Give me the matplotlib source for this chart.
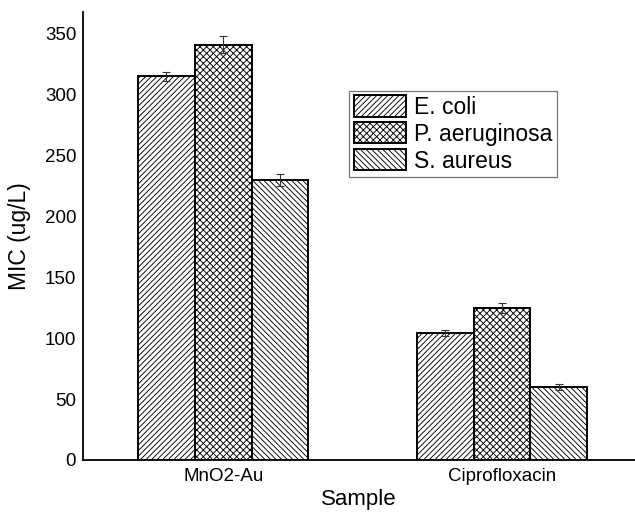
import matplotlib
matplotlib.use("Agg")
import matplotlib.pyplot as plt
import numpy as np

plt.rcParams['font.family'] = ['Liberation Sans', 'DejaVu Sans']
plt.rcParams['hatch.linewidth'] = 0.65

samples = ["MnO2-Au", "Ciprofloxacin"]
series = ["E. coli", "P. aeruginosa", "S. aureus"]
mic = {
    "E. coli": [315, 104],
    "P. aeruginosa": [341, 125],
    "S. aureus": [230, 60],
}
err = {
    "E. coli": [4, 2.5],
    "P. aeruginosa": [7, 4],
    "S. aureus": [5, 2.5],
}
hatches = {"E. coli": "//////", "P. aeruginosa": "xxxxx", "S. aureus": "\\\\\\\\\\\\"}
yticks = [0, 50, 100, 150, 200, 250, 300, 350]

fig = plt.figure(figsize=(6.35, 5.15), dpi=100)
ax = fig.add_axes([0.131, 0.107, 0.869, 0.870])

x = np.arange(len(samples))
width = 0.204
for i, name in enumerate(series):
    ax.bar(x + (i - 1) * width, mic[name], width, color="white", edgecolor="black",
           linewidth=1.4, hatch=hatches[name], label=name,
           yerr=err[name], error_kw=dict(ecolor="#333333", elinewidth=0.8, capsize=3, capthick=0.8))

ax.set_xlim(-0.502, 1.477)
ax.set_ylim(0, 368)
ax.set_yticks(yticks)
ax.set_xticks(x)
ax.set_xticklabels(samples)
ax.tick_params(length=0, labelsize=13.5)
ax.tick_params(axis='y', pad=5)
ax.tick_params(axis='x', pad=6)
ax.spines['top'].set_visible(False)
ax.spines['right'].set_visible(False)
ax.spines['left'].set_linewidth(1.3)
ax.spines['bottom'].set_linewidth(1.3)
ax.set_xlabel("Sample", fontsize=16, labelpad=3)
ax.set_ylabel("MIC (ug/L)", fontsize=16.5, labelpad=10)

leg = ax.legend(loc="upper left", bbox_to_anchor=(0.482, 0.824), borderaxespad=0,
                fontsize=16.5, fancybox=False, edgecolor="#777777", framealpha=1,
                handlelength=2.3, handleheight=1.05, labelspacing=0.15,
                handletextpad=0.35, borderpad=0.2)
leg.get_frame().set_linewidth(0.9)

fig.savefig("out.png", dpi=100)
